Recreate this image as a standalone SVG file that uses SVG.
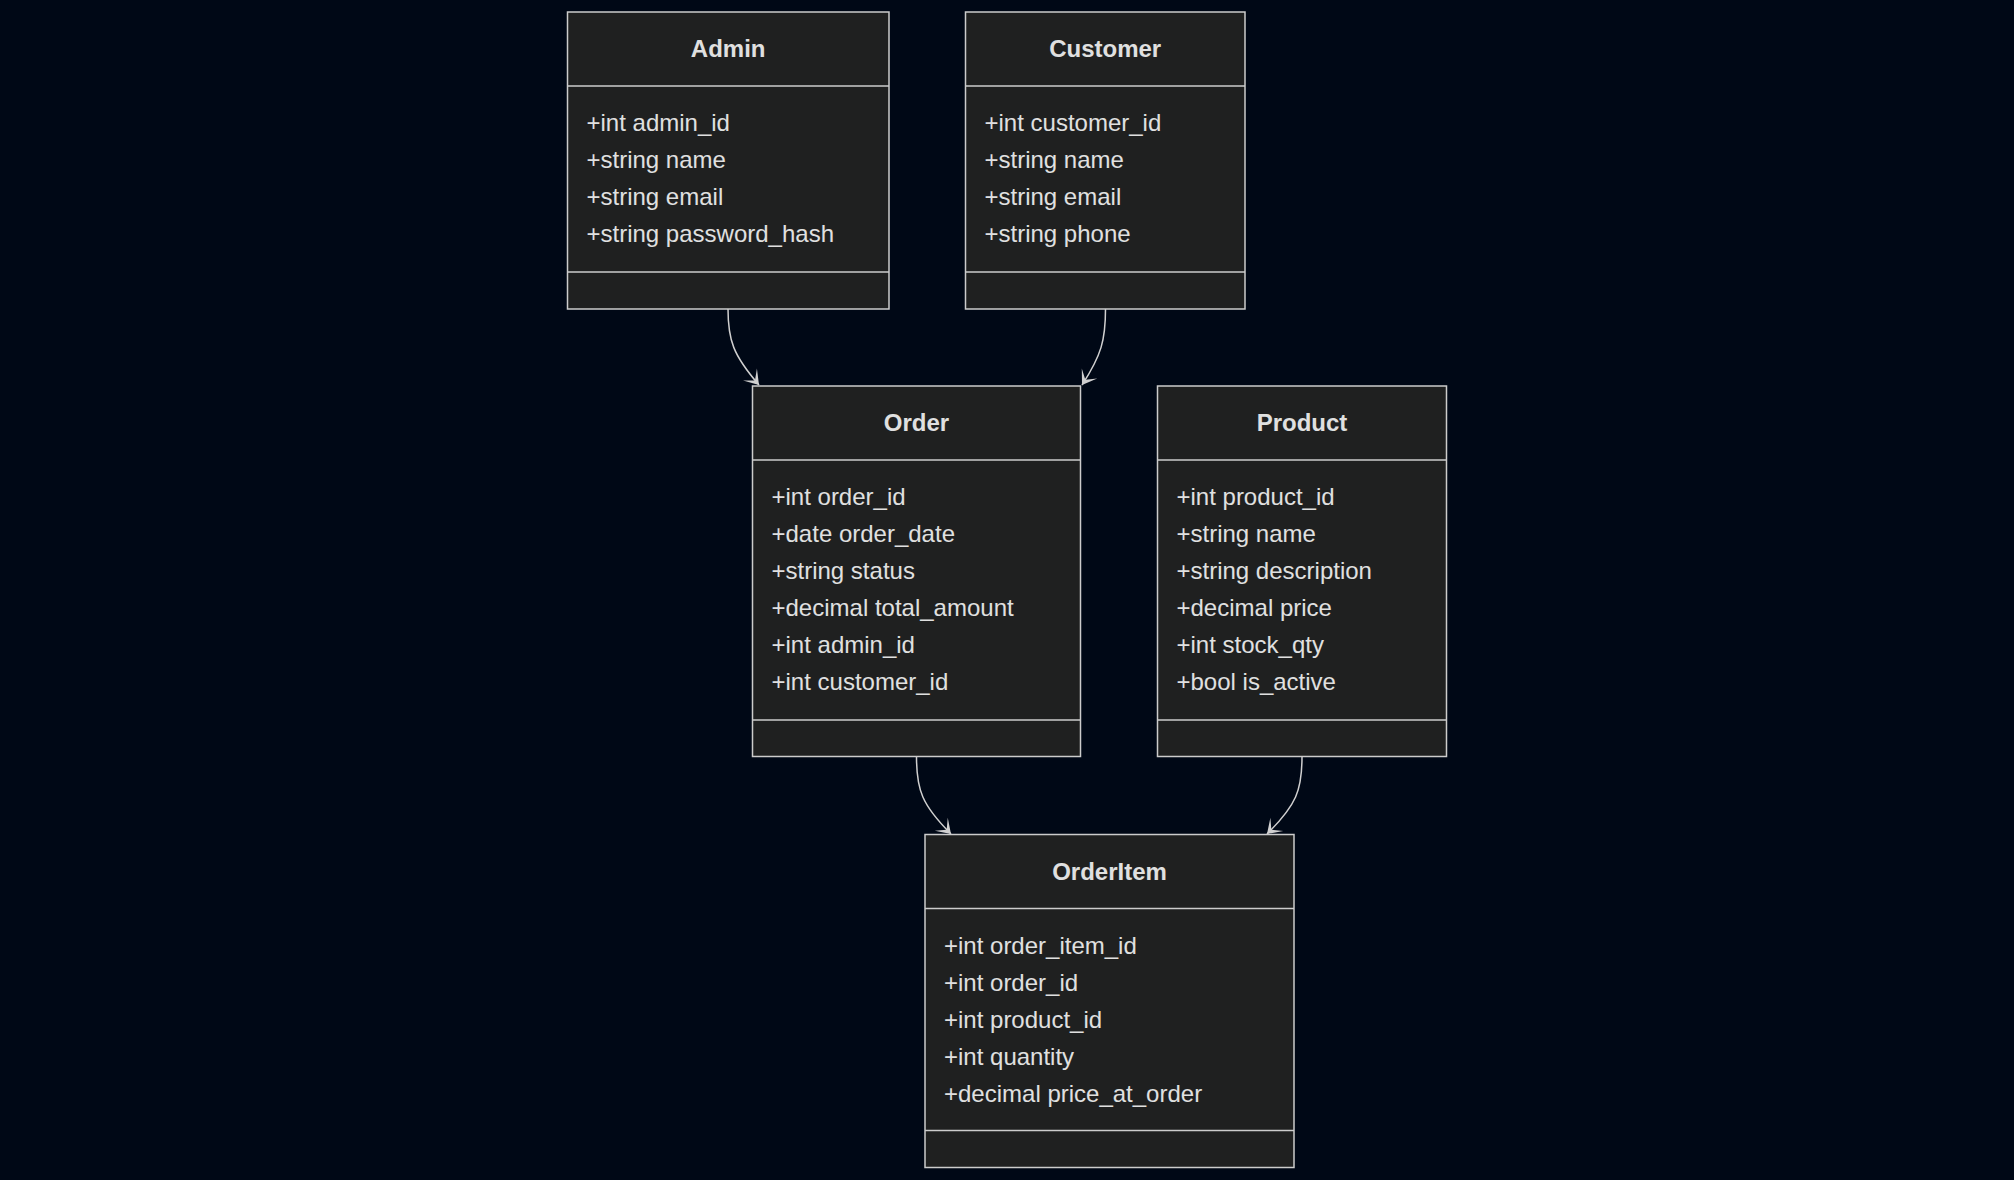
<svg xmlns="http://www.w3.org/2000/svg" width="2014" height="1180" viewBox="0 0 2014 1180">
<style>
.box{fill:#1f2020;stroke:#cccccc;stroke-width:1.5}
.div{stroke:#cccccc;stroke-width:1.5}
.title{font-family:"Liberation Sans",Arial,sans-serif;font-size:24px;font-weight:bold;fill:#e0e0e0;text-anchor:middle}
.mem{font-family:"Liberation Sans",Arial,sans-serif;font-size:24px;fill:#e0e0e0}
.edge{fill:none;stroke:#d0d0d0;stroke-width:1.5}
</style>
<defs>
<marker id="arr" viewBox="0 0 20 14" markerUnits="userSpaceOnUse" markerWidth="30.6" markerHeight="21.4" refX="18" refY="7" orient="auto">
<path d="M18,7 L9,13 L14,7 L9,1 Z" fill="#d0d0d0"/>
</marker>
</defs>
<rect width="2014" height="1180" fill="#000816"/>
<g id="connectors">
<path class="edge" d="M728,309 C728,340 733,355 759,385" marker-end="url(#arr)"/>
<path class="edge" d="M1105.5,309 C1105.5,340 1101.5,355 1082,385" marker-end="url(#arr)"/>
<path class="edge" d="M916.5,757 C916.5,790 922,805 951,834" marker-end="url(#arr)"/>
<path class="edge" d="M1302,757 C1302,790 1296.5,805 1267,834" marker-end="url(#arr)"/>
</g>
<g id="Admin">
<rect class="box" x="567.5" y="12" width="321.5" height="297"/>
<line class="div" x1="567.5" y1="86" x2="889" y2="86"/>
<line class="div" x1="567.5" y1="272" x2="889" y2="272"/>
<text class="title" x="728.2" y="57">Admin</text>
<text class="mem" x="586.5" y="131">+int admin_id</text>
<text class="mem" x="586.5" y="168">+string name</text>
<text class="mem" x="586.5" y="205">+string email</text>
<text class="mem" x="586.5" y="242">+string password_hash</text>
</g>
<g id="Customer">
<rect class="box" x="965.5" y="12" width="279.5" height="297"/>
<line class="div" x1="965.5" y1="86" x2="1245" y2="86"/>
<line class="div" x1="965.5" y1="272" x2="1245" y2="272"/>
<text class="title" x="1105.2" y="57">Customer</text>
<text class="mem" x="984.5" y="131">+int customer_id</text>
<text class="mem" x="984.5" y="168">+string name</text>
<text class="mem" x="984.5" y="205">+string email</text>
<text class="mem" x="984.5" y="242">+string phone</text>
</g>
<g id="Order">
<rect class="box" x="752.5" y="386" width="328" height="370.5"/>
<line class="div" x1="752.5" y1="460" x2="1080.5" y2="460"/>
<line class="div" x1="752.5" y1="720" x2="1080.5" y2="720"/>
<text class="title" x="916.5" y="431">Order</text>
<text class="mem" x="771.5" y="505">+int order_id</text>
<text class="mem" x="771.5" y="542">+date order_date</text>
<text class="mem" x="771.5" y="579">+string status</text>
<text class="mem" x="771.5" y="616">+decimal total_amount</text>
<text class="mem" x="771.5" y="653">+int admin_id</text>
<text class="mem" x="771.5" y="690">+int customer_id</text>
</g>
<g id="Product">
<rect class="box" x="1157.5" y="386" width="289" height="370.5"/>
<line class="div" x1="1157.5" y1="460" x2="1446.5" y2="460"/>
<line class="div" x1="1157.5" y1="720" x2="1446.5" y2="720"/>
<text class="title" x="1302" y="431">Product</text>
<text class="mem" x="1176.5" y="505">+int product_id</text>
<text class="mem" x="1176.5" y="542">+string name</text>
<text class="mem" x="1176.5" y="579">+string description</text>
<text class="mem" x="1176.5" y="616">+decimal price</text>
<text class="mem" x="1176.5" y="653">+int stock_qty</text>
<text class="mem" x="1176.5" y="690">+bool is_active</text>
</g>
<g id="OrderItem">
<rect class="box" x="925" y="834.5" width="369" height="333"/>
<line class="div" x1="925" y1="908.5" x2="1294" y2="908.5"/>
<line class="div" x1="925" y1="1130.5" x2="1294" y2="1130.5"/>
<text class="title" x="1109.5" y="879.5">OrderItem</text>
<text class="mem" x="944" y="953.5">+int order_item_id</text>
<text class="mem" x="944" y="990.5">+int order_id</text>
<text class="mem" x="944" y="1027.5">+int product_id</text>
<text class="mem" x="944" y="1064.5">+int quantity</text>
<text class="mem" x="944" y="1101.5">+decimal price_at_order</text>
</g>
</svg>
